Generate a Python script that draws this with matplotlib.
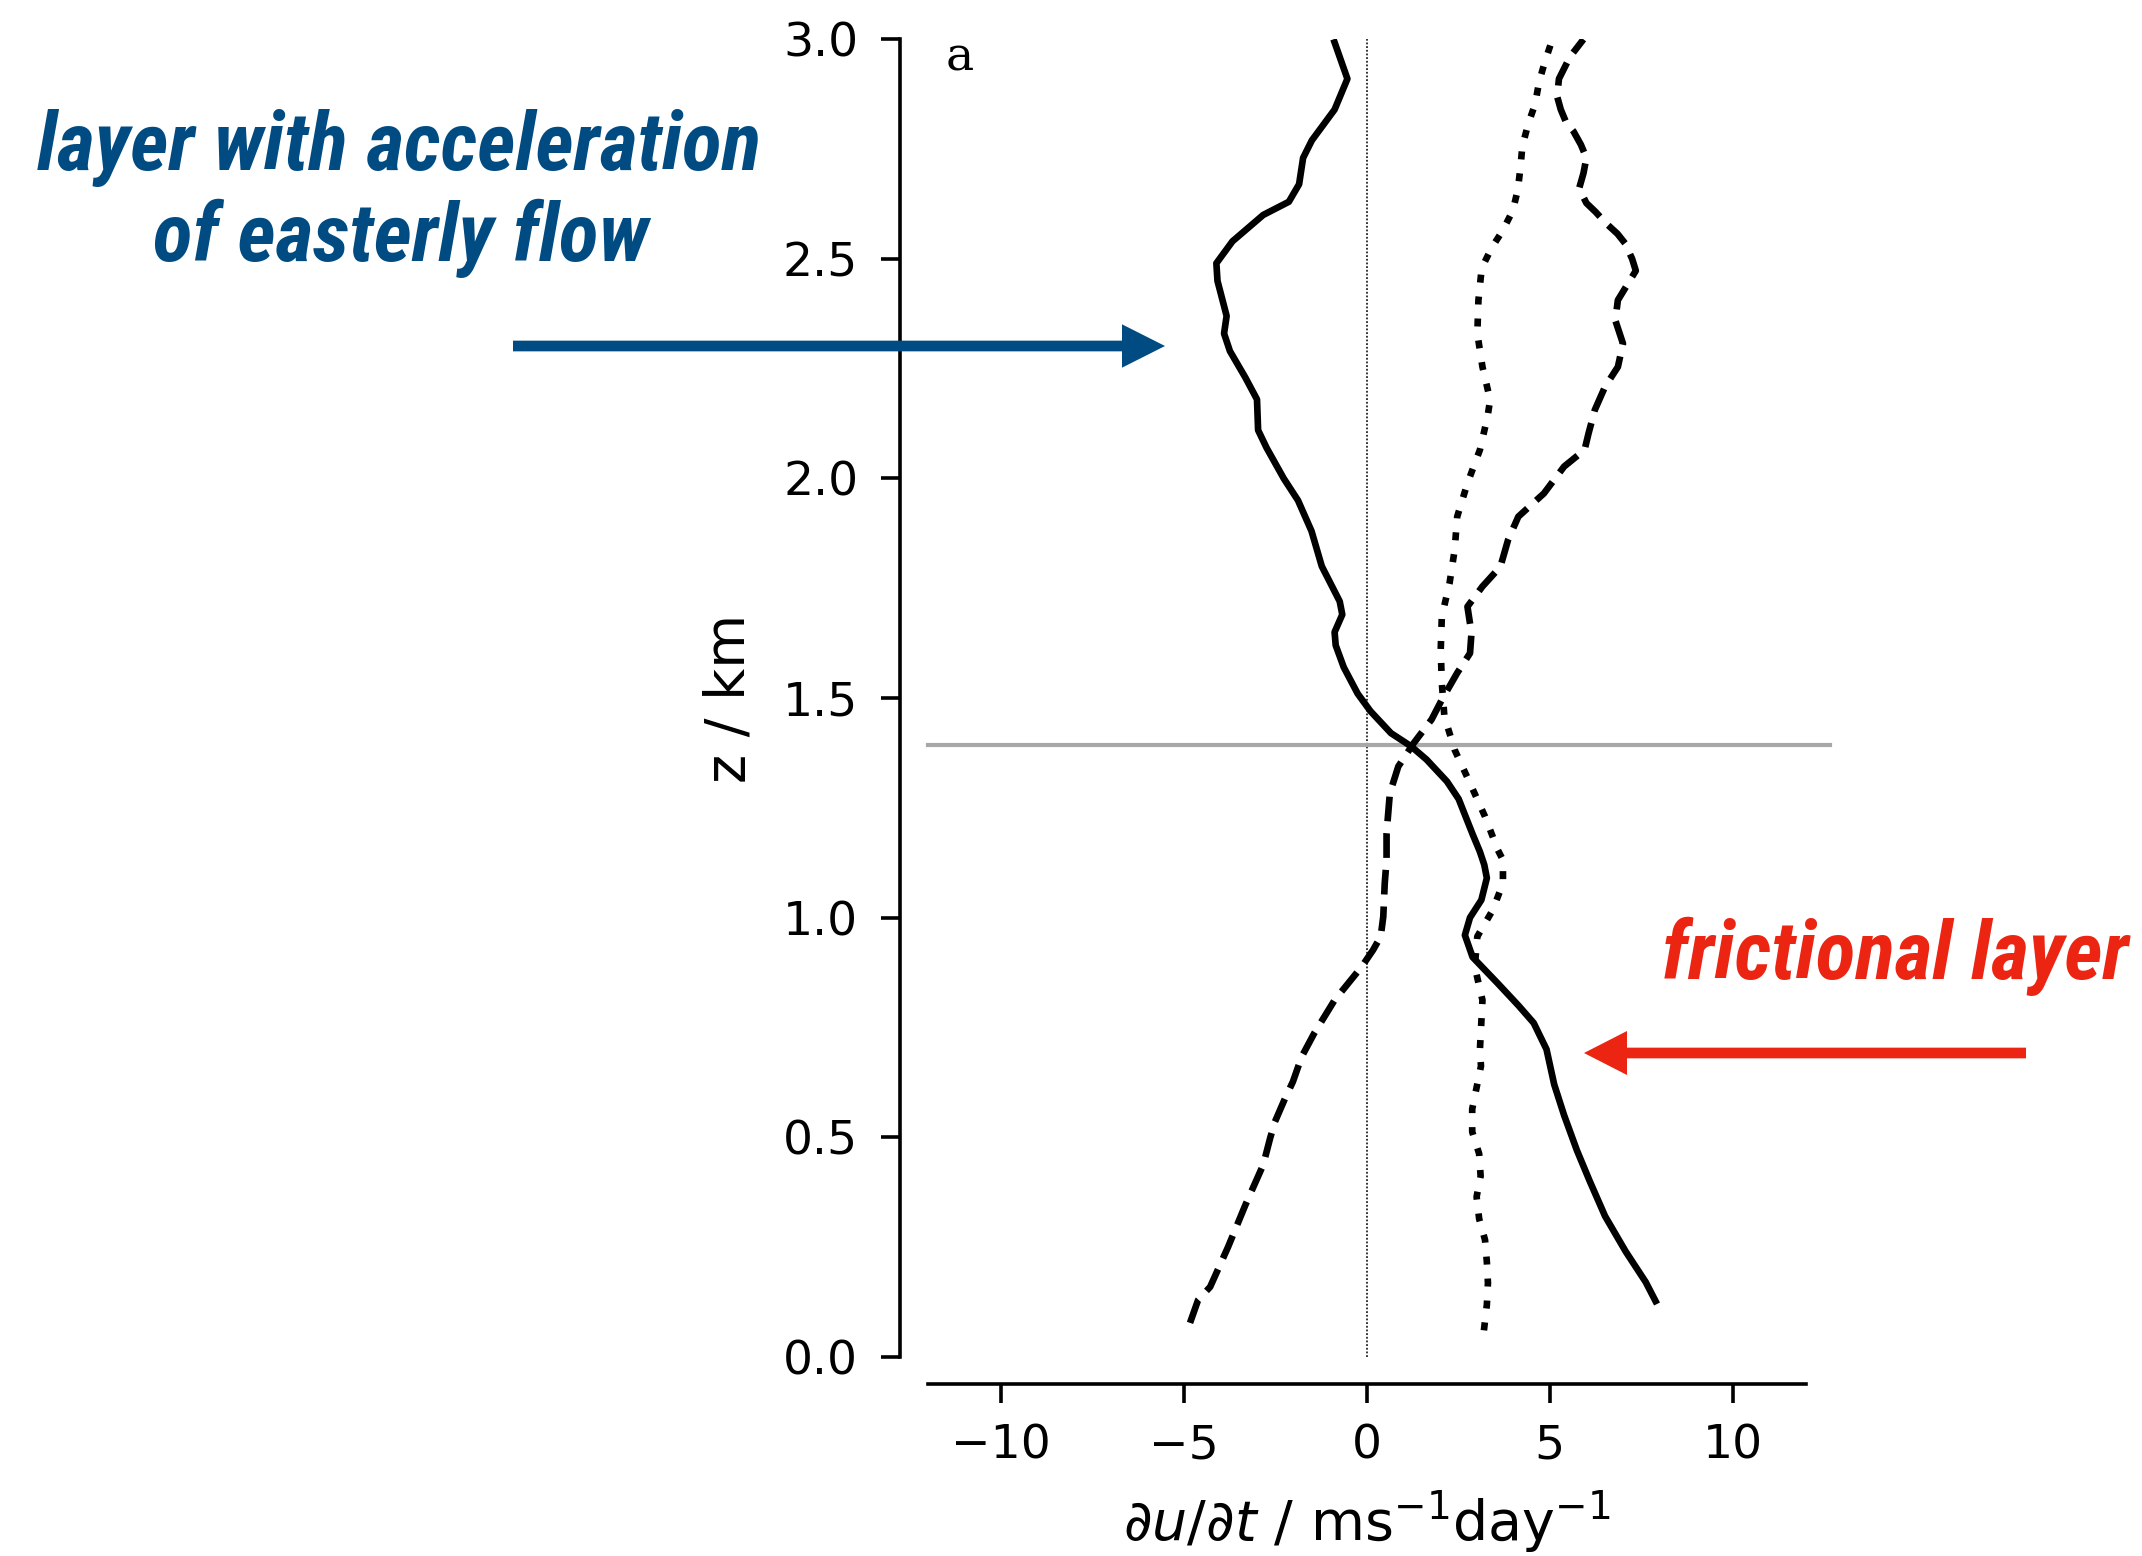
import matplotlib
matplotlib.use("Agg")
import matplotlib.pyplot as plt
from matplotlib import font_manager
from matplotlib.patches import FancyArrow

# ---------------- data ----------------
z_solid = [0.12, 0.17, 0.24, 0.32, 0.40, 0.47, 0.55, 0.62, 0.70, 0.76, 0.80, 0.85,
           0.91, 0.96, 1.00, 1.04, 1.09, 1.12, 1.15, 1.19, 1.27, 1.31, 1.36, 1.39,
           1.42, 1.47, 1.51, 1.57, 1.62, 1.65, 1.69, 1.72, 1.80, 1.88, 1.95, 2.00,
           2.07, 2.11, 2.18, 2.23, 2.29, 2.33, 2.37, 2.45, 2.49, 2.54, 2.60, 2.63,
           2.67, 2.73, 2.77, 2.84, 2.91, 3.00]
x_solid = [7.93, 7.62, 7.07, 6.51, 6.09, 5.74, 5.39, 5.12, 4.91, 4.56, 4.14, 3.58,
           2.89, 2.68, 2.82, 3.13, 3.28, 3.21, 3.09, 2.89, 2.51, 2.19, 1.63, 1.21,
           0.66, 0.10, -0.25, -0.63, -0.85, -0.88, -0.67, -0.74, -1.23, -1.51, -1.88, -2.27,
           -2.74, -2.97, -3.00, -3.32, -3.74, -3.90, -3.83, -4.08, -4.11, -3.67, -2.83, -2.13,
           -1.85, -1.74, -1.50, -0.88, -0.53, -0.91]

z_dash = [0.077, 0.129, 0.159, 0.250, 0.345, 0.437, 0.498, 0.535, 0.589, 0.626, 0.683, 0.736,
          0.812, 0.888, 0.926, 0.957, 1.002, 1.078, 1.131, 1.192, 1.283, 1.344, 1.397,
          1.451, 1.496, 1.557, 1.602, 1.648, 1.708, 1.754, 1.799, 1.860, 1.913, 1.966,
          2.027, 2.065, 2.103, 2.156, 2.209, 2.254, 2.307, 2.360, 2.406, 2.473, 2.500,
          2.535, 2.557, 2.580, 2.607, 2.627, 2.660, 2.695, 2.730, 2.760, 2.790, 2.810,
          2.840, 2.870, 2.910, 2.960, 3.000]
x_dash = [-4.83, -4.61, -4.28, -3.79, -3.32, -2.83, -2.64, -2.51, -2.23, -2.02, -1.78, -1.44,
          -0.88, -0.14, 0.17, 0.38, 0.45, 0.49, 0.54, 0.54, 0.63, 0.86, 1.28,
          1.77, 2.05, 2.47, 2.82, 2.86, 2.75, 3.16, 3.65, 3.86, 4.14, 4.84,
          5.39, 5.95, 6.06, 6.23, 6.51, 6.86, 7.00, 6.79, 6.86, 7.35, 7.25,
          7.06, 6.85, 6.55, 6.25, 6.00, 5.80, 5.92, 6.00, 5.85, 5.65, 5.45,
          5.30, 5.20, 5.25, 5.55, 5.92]

z_dot = [0.060, 0.118, 0.168, 0.216, 0.266, 0.314, 0.364, 0.411, 0.462, 0.512, 0.564,
         0.613, 0.662, 0.698, 0.812, 0.888,
         0.957, 1.017, 1.078, 1.131, 1.154, 1.230, 1.306, 1.382, 1.458, 1.534, 1.610,
         1.686, 1.761, 1.837, 1.913, 1.989, 2.065, 2.141, 2.179, 2.254, 2.330, 2.406,
         2.479, 2.525, 2.564, 2.610, 2.659, 2.710, 2.757, 2.807, 2.853, 2.904, 2.950, 2.995]
x_dot = [3.20, 3.28, 3.31, 3.28, 3.23, 3.07, 3.00, 3.11, 3.07, 2.88, 2.88,
         3.00, 3.12, 3.09, 3.16, 2.95,
         3.02, 3.44, 3.72, 3.72, 3.58, 3.23, 2.82, 2.40, 2.12, 2.05, 2.02,
         2.05, 2.26, 2.40, 2.47, 2.75, 3.09, 3.30, 3.37, 3.16, 3.02, 3.05,
         3.14, 3.41, 3.71, 3.99, 4.13, 4.20, 4.25, 4.41, 4.60, 4.71, 4.87, 5.05]

z_marker_line = 1.393
x_ticks = [-10, -5, 0, 5, 10]
y_ticks = [0.0, 0.5, 1.0, 1.5, 2.0, 2.5, 3.0]
x_limits = (-12, 12)
y_limits = (0, 3)

panel_label = "a"
x_label = r"$\partial u/\partial t$ / ms$^{-1}$day$^{-1}$"
y_label = "z / km"
note_top = ["layer with acceleration", "of easterly flow"]
note_bottom = "frictional layer"

# ---------------- figure ----------------
W, H, DPI = 2142, 1556, 100
plt.rcParams["mathtext.fontset"] = "dejavusans"
plt.rcParams["font.family"] = ["DejaVu Sans"]
fig = plt.figure(figsize=(W / DPI, H / DPI), dpi=DPI)

ax = fig.add_axes([927.6 / W, 1 - 1356.7 / H, (1806 - 927.6) / W, (1356.7 - 39.3) / H])
ax.set_xlim(*x_limits)
ax.set_ylim(*y_limits)

ax.axvline(0, color="black", lw=1.1, ls=(0, (1.2, 1.2)), zorder=1)
ax.plot([x_limits[0], 12.66], [z_marker_line, z_marker_line], color="#a8a8a8", lw=3.0,
        clip_on=False, zorder=1)

LW = 4.8
ax.plot(x_solid, z_solid, color="black", lw=LW, solid_capstyle="butt",
        solid_joinstyle="round", zorder=3)
ax.plot(x_dash, z_dash, color="black", lw=LW, dashes=(3.7, 1.8), dash_capstyle="butt",
        dash_joinstyle="round", zorder=3)
ax.plot(x_dot, z_dot, color="black", lw=LW, dashes=(1.2, 2.1), dash_capstyle="butt",
        dash_joinstyle="round", zorder=3)

for s in ("top", "right"):
    ax.spines[s].set_visible(False)
for s in ("left", "bottom"):
    ax.spines[s].set_position(("outward", 20))
    ax.spines[s].set_linewidth(2.6)

ax.set_xticks(x_ticks)
ax.set_yticks(y_ticks)
ax.set_yticklabels([f"{v:.1f}" for v in y_ticks])
ax.tick_params(axis="both", length=14, width=2.6, labelsize=34)
ax.tick_params(axis="x", pad=14)
ax.tick_params(axis="y", pad=16)

ax.set_xlabel(x_label, fontsize=40)
ax.set_ylabel(y_label, fontsize=40)
ax.xaxis.set_label_coords(0.5, -0.100)
ax.yaxis.set_label_coords(-0.195, 0.5)

ax.text(-11.5, 2.93, panel_label, family="DejaVu Serif", fontsize=34, va="baseline", ha="left")

# ---------------- annotations ----------------
names = {f.name for f in font_manager.fontManager.ttflist}
ann_family = "Lato"
for cand in ("Roboto Condensed", "Liberation Sans Narrow", "Open Sans Condensed", "Lato"):
    if cand in names:
        ann_family = cand
        break
blue = "#004c82"
red = "#ec2412"

def fx(px):
    return px / W

def fy(py):
    return 1 - py / H

t1 = fig.text(fx(399), fy(170), note_top[0], family=ann_family, weight="bold",
              style="italic", color=blue, fontsize=54, ha="center", va="baseline")
t2 = fig.text(fx(401), fy(261), note_top[1], family=ann_family, weight="bold",
              style="italic", color=blue, fontsize=54, ha="center", va="baseline")
t3 = fig.text(fx(1662), fy(979), note_bottom, family=ann_family, weight="bold",
              style="italic", color=red, fontsize=54, ha="left", va="baseline")

fig.canvas.draw()
r = fig.canvas.get_renderer()
scale = 725.0 / t1.get_window_extent(r).width
for t in (t1, t2, t3):
    t.set_fontsize(54 * scale)

# arrows in figure-fraction coordinates (horizontal)
fig.add_artist(FancyArrow(fx(513), fy(346), fx(1165) - fx(513), 0,
                          width=10.7 / H, head_width=43.4 / H, head_length=43 / W,
                          length_includes_head=True, color=blue, lw=0,
                          transform=fig.transFigure))
fig.add_artist(FancyArrow(fx(2026), fy(1053), fx(1584) - fx(2026), 0,
                          width=10.7 / H, head_width=44 / H, head_length=43 / W,
                          length_includes_head=True, color=red, lw=0,
                          transform=fig.transFigure))

fig.savefig("out.png", dpi=DPI, facecolor="white")
